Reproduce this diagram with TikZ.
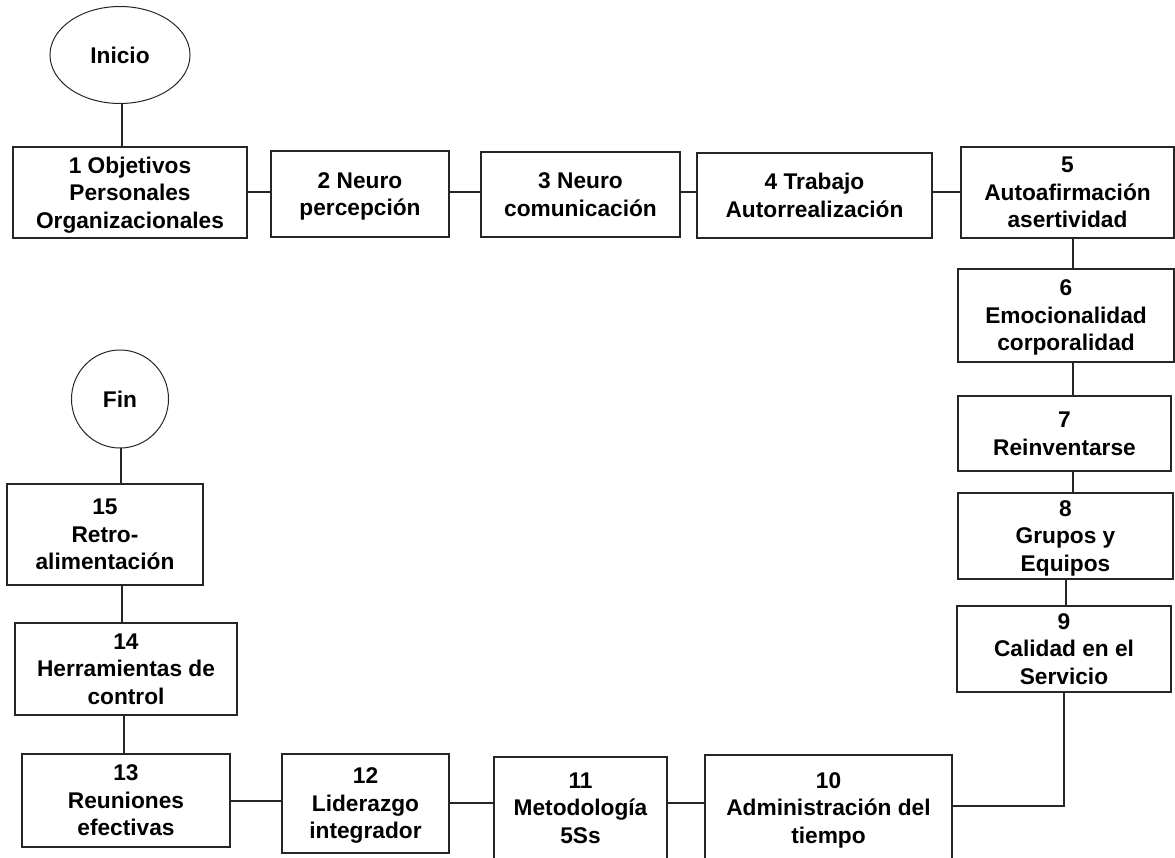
\documentclass[tikz,border=0pt]{standalone}
\usepackage{fontspec}
\setmainfont{Liberation Sans}
\usetikzlibrary{shapes.geometric,calc}
\begin{document}
\begin{tikzpicture}[x=1pt,y=-1pt,
  txt/.style={align=center,font=\fontsize{22.7}{27.5}\selectfont\bfseries},
  box/.style={txt,draw=black!85,line width=1.2pt,rectangle,inner sep=0pt,outer sep=0pt,text depth=-1pt},
  term/.style={txt,draw=black!85,line width=1pt,ellipse,inner sep=0pt,outer sep=0pt},
  conn/.style={draw=black!85,line width=1.7pt}]
\useasboundingbox (0,0) rectangle (1175,857);
\clip (0,0) rectangle (1175,857);
% terminals
\node[term,minimum width=140pt,minimum height=97pt] (ini) at (120,55) {Inicio};
\node[term,minimum width=97pt,minimum height=98pt] (fin) at (120,399) {Fin};
% top row
\node[box,minimum width=234pt,minimum height=91pt] (b1) at (130,192.5) {1 Objetivos\\Personales\\Organizacionales};
\node[box,minimum width=178pt,minimum height=86pt] (b2) at (360,194) {2 Neuro\\percepción};
\node[box,minimum width=199pt,minimum height=85pt] (b3) at (580.5,194.5) {3 Neuro\\comunicación};
\node[box,minimum width=235pt,minimum height=85pt] (b4) at (814.5,195.5) {4 Trabajo\\Autorrealización};
\node[box,minimum width=213pt,minimum height=91pt] (b5) at (1067.5,192.5) {5\\Autoafirmación\\asertividad};
% right column
\node[box,minimum width=216pt,minimum height=93pt] (b6) at (1066,315.5) {6\\Emocionalidad\\corporalidad};
\node[box,minimum width=213pt,minimum height=75pt] (b7) at (1064.5,433.5) {7\\Reinventarse};
\node[box,minimum width=215pt,minimum height=86pt] (b8) at (1065.5,536) {8\\Grupos y\\Equipos};
\node[box,minimum width=214pt,minimum height=86pt] (b9) at (1064,649) {9\\Calidad en el\\Servicio};
% bottom row
\node[box,minimum width=247pt,minimum height=106pt] (b10) at (828.5,808) {10\\Administración del\\tiempo};
\node[box,minimum width=173pt,minimum height=102pt] (b11) at (580.5,808) {11\\Metodología\\5Ss};
\node[box,minimum width=167pt,minimum height=99pt] (b12) at (365.5,803.5) {12\\Liderazgo\\integrador};
\node[box,minimum width=208pt,minimum height=93pt] (b13) at (126,800.5) {13\\Reuniones\\efectivas};
% left column
\node[box,minimum width=222pt,minimum height=92pt] (b14) at (126,669) {14\\Herramientas de\\control};
\node[box,minimum width=196pt,minimum height=101pt] (b15) at (105,534.5) {15\\Retro-\\alimentación};
% connectors
\coordinate (c0) at ($(ini.south)+(2,0)$);
\draw[conn] (c0) -- (c0 |- b1.north);
\coordinate (c12) at ($(b1.east)+(0,-0.5)$);
\draw[conn] (c12) -- (c12 -| b2.west);
\coordinate (c23) at ($(b2.east)+(0,-2)$);
\draw[conn] (c23) -- (c23 -| b3.west);
\coordinate (c34) at ($(b3.east)+(0,-2.5)$);
\draw[conn] (c34) -- (c34 -| b4.west);
\coordinate (c45) at ($(b4.east)+(0,-3.5)$);
\draw[conn] (c45) -- (c45 -| b5.west);
\coordinate (c56) at ($(b5.south)+(5.5,0)$);
\draw[conn] (c56) -- (c56 |- b6.north);
\coordinate (c67) at ($(b6.south)+(7,0)$);
\draw[conn] (c67) -- (c67 |- b7.north);
\coordinate (c78) at ($(b7.south)+(8.5,0)$);
\draw[conn] (c78) -- (c78 |- b8.north);
\coordinate (c89) at ($(b8.south)+(0.5,0)$);
\draw[conn] (c89) -- (c89 |- b9.north);
\coordinate (c910) at ($(b10.east)+(0,-2)$);
\draw[conn] (b9.south) -- (b9.south |- c910) -- (c910);
\coordinate (c1011) at ($(b10.west)+(0,-5)$);
\draw[conn] (c1011) -- (c1011 -| b11.east);
\coordinate (c1112) at ($(b11.west)+(0,-5)$);
\draw[conn] (c1112) -- (c1112 -| b12.east);
\coordinate (c1213) at ($(b12.west)+(0,-2.5)$);
\draw[conn] (c1213) -- (c1213 -| b13.east);
\coordinate (c1314) at ($(b13.north)+(-2,0)$);
\draw[conn] (c1314) -- (c1314 |- b14.south);
\coordinate (c1415) at ($(b14.north)+(-4,0)$);
\draw[conn] (c1415) -- (c1415 |- b15.south);
\coordinate (c15f) at ($(b15.north)+(16,0)$);
\draw[conn] (c15f) -- (c15f |- fin.south);
\end{tikzpicture}
\end{document}
